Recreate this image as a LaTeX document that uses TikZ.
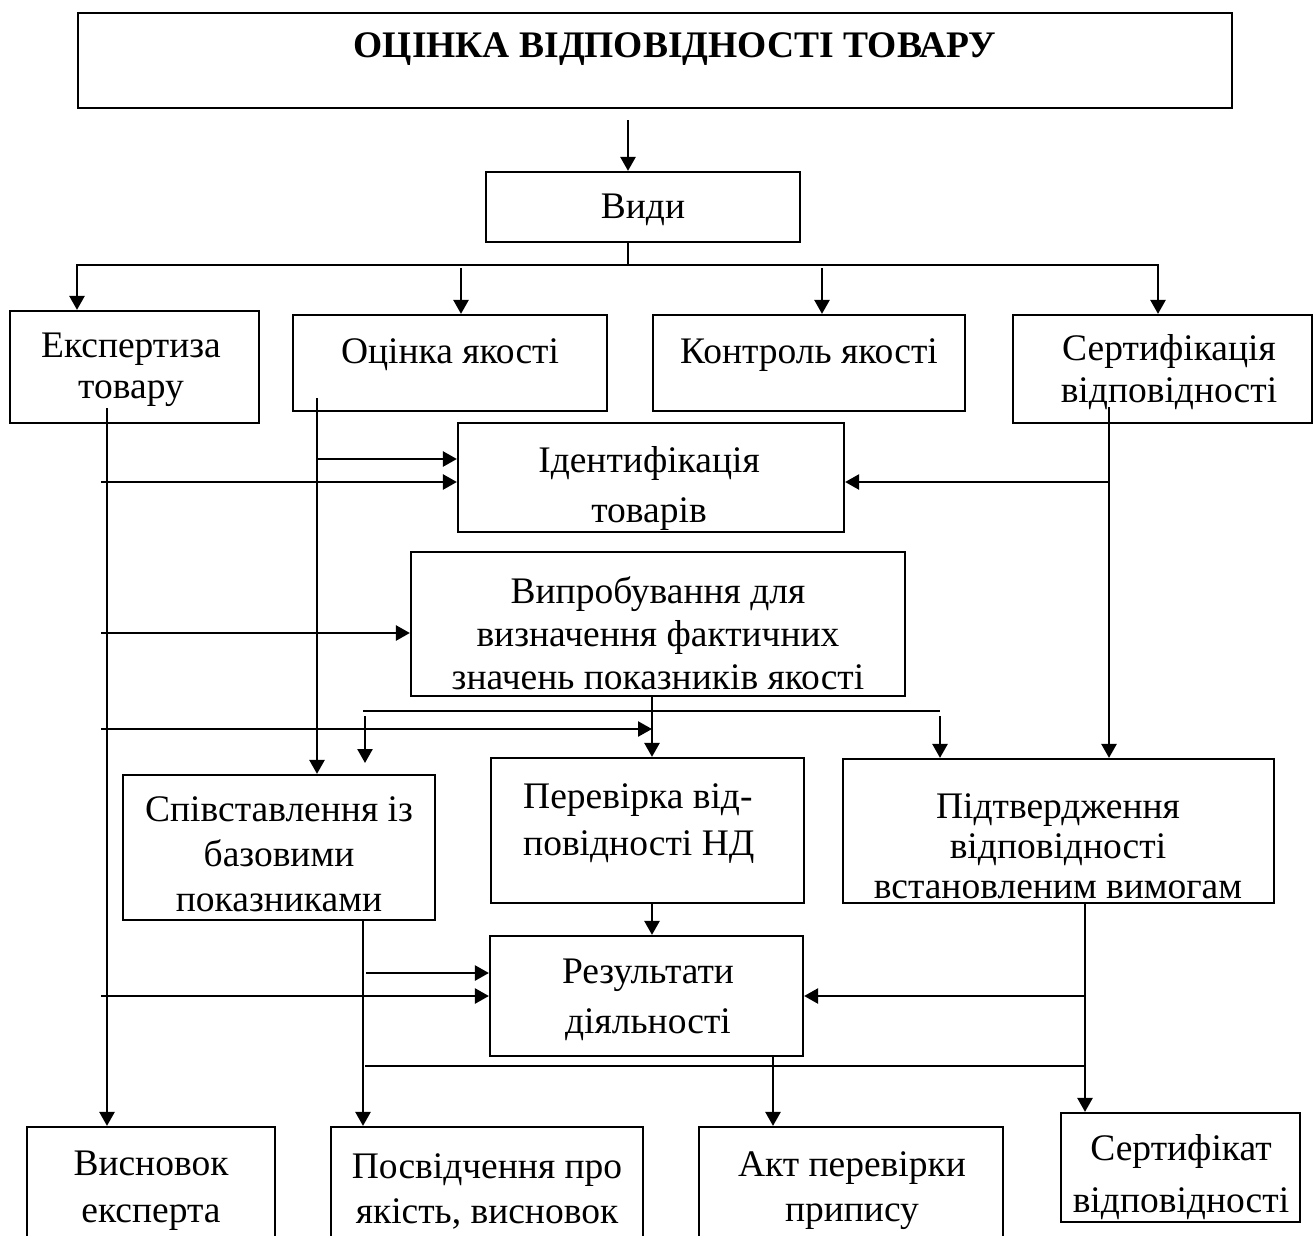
\documentclass[tikz,border=0pt]{standalone}
\usepackage{fontspec}
\setmainfont{Liberation Serif}
\usetikzlibrary{arrows.meta}
\begin{document}
\begin{tikzpicture}[x=1pt,y=-1pt,
  box/.style={draw,line width=2.2pt,inner sep=0pt},
  txt/.style={align=center,font=\fontsize{37.5}{44}\selectfont,inner sep=0pt},
  con/.style={line width=2.5pt},
  thinline/.style={line width=1.8pt},
  arr/.style={line width=2.5pt,-{Triangle[length=14pt,width=15pt]}},
  dbl/.style={line width=2.5pt,line join=miter,{Triangle[length=14pt,width=15pt]}-{Triangle[length=14pt,width=15pt]}},
]
\useasboundingbox (0,0) rectangle (1314,1235);
\clip (0,0) rectangle (1314,1235);
\fill[white] (0,0) rectangle (1314,1235);

% boxes
\node[box,minimum width=1154pt,minimum height=95pt] (title) at (655,60.5) {};
\node[box,minimum width=314pt,minimum height=70pt] (vydy) at (643,207) {};
\node[box,minimum width=249pt,minimum height=112pt] (eksp) at (134.5,367) {};
\node[box,minimum width=314pt,minimum height=96pt] (ocin) at (450,363) {};
\node[box,minimum width=312pt,minimum height=96pt] (kontr) at (809,363) {};
\node[box,minimum width=299pt,minimum height=108pt] (sert) at (1162.5,369) {};
\node[box,minimum width=386pt,minimum height=109pt] (ident) at (651,477.5) {};
\node[box,minimum width=494pt,minimum height=144pt] (vypr) at (658,624) {};
\node[box,minimum width=312pt,minimum height=145pt] (spiv) at (279,847.5) {};
\node[box,minimum width=313pt,minimum height=145pt] (perev) at (647.5,830.5) {};
\node[box,minimum width=431pt,minimum height=144pt] (pidtv) at (1058.5,831) {};
\node[box,minimum width=313pt,minimum height=120pt] (rez) at (646.5,996) {};
\node[box,minimum width=248pt,minimum height=173pt] (vysn) at (151,1213.5) {};
\node[box,minimum width=312pt,minimum height=173pt] (posv) at (487,1213.5) {};
\node[box,minimum width=304pt,minimum height=173pt] (akt) at (851,1213.5) {};
\node[box,minimum width=239pt,minimum height=109pt] (sertf) at (1180.5,1167.5) {};

% texts
\node[txt,font=\fontsize{37.5}{44}\selectfont\bfseries] (title-t) at (675,49) {ОЦІНКА ВІДПОВІДНОСТІ ТОВАРУ};
\node[txt] (vydy-t) at (643,210) {Види};
\node[txt,font=\fontsize{37.5}{41}\selectfont] (eksp-t) at (131,370) {Експертиза\\товару};
\node[txt] (ocin-t) at (450,355) {Оцінка якості};
\node[txt] (kontr-t) at (809,355) {Контроль якості};
\node[txt,font=\fontsize{37.5}{42}\selectfont] (sert-t) at (1169,372) {Сертифікація\\відповідності};
\node[txt,font=\fontsize{37.5}{50}\selectfont] (ident-t) at (649,488) {Ідентифікація\\товарів};
\node[txt,font=\fontsize{37.5}{43}\selectfont] (vypr-t) at (658,633) {Випробування для\\визначення фактичних\\значень показників якості};
\node[txt,font=\fontsize{37.5}{45}\selectfont] (spiv-t) at (279,854) {Співставлення із\\базовими\\показниками};
\node[txt,font=\fontsize{37.5}{47}\selectfont,align=left,anchor=west] (perev-t) at (523,824) {Перевірка від-\\повідності НД};
\node[txt,font=\fontsize{37.5}{40}\selectfont] (pidtv-t) at (1058,846) {Підтвердження\\відповідності\\встановленим вимогам};
\node[txt,font=\fontsize{37.5}{50}\selectfont] (rez-t) at (648,1000) {Результати\\діяльності};
\node[txt,font=\fontsize{37.5}{47}\selectfont] (vysn-t) at (151,1191) {Висновок\\експерта};
\node[txt,font=\fontsize{37.5}{45}\selectfont] (posv-t) at (487,1191) {Посвідчення про\\якість, висновок};
\node[txt,font=\fontsize{37.5}{45}\selectfont] (akt-t) at (852,1191) {Акт перевірки\\припису};
\node[txt,font=\fontsize{37.5}{52}\selectfont] (sertf-t) at (1181,1177) {Сертифікат\\відповідності};

% connectors
\coordinate (t1) at (628,120);
\draw[arr] (t1) -- (t1 |- vydy.north);
\coordinate (b0) at (628,265);
\draw[con] (vydy.south -| b0) -- (b0);
\coordinate (bL) at (77,265);
\coordinate (bR) at (1158,265);
\draw[dbl] (bL |- eksp.north) -- (bL) -- (bR) -- (bR |- sert.north);
\coordinate (b2) at (461,268);
\draw[arr] (b2) -- (b2 |- ocin.north);
\coordinate (b3) at (822,268);
\draw[arr] (b3) -- (b3 |- kontr.north);

\coordinate (e1) at (107,408);
\draw[arr] (e1) -- (e1 |- vysn.north);
\coordinate (o1) at (317,398);
\draw[arr] (o1) -- (o1 |- spiv.north);
\coordinate (s1) at (1109,407);
\draw[arr] (s1) -- (s1 |- pidtv.north);

\coordinate (o2) at (317,459);
\draw[arr] (o2) -- (o2 -| ident.west);
\coordinate (l1) at (101,482);
\draw[arr] (l1) -- (l1 -| ident.west);
\coordinate (s2) at (1109,482);
\draw[arr] (s2) -- (s2 -| ident.east);
\coordinate (l2) at (101,633);
\draw[arr] (l2) -- (l2 -| vypr.west);

\coordinate (v1) at (652,696);
\draw[arr] (v1 |- vypr.south) -- (v1 |- perev.north);
\coordinate (h1) at (363,711);
\coordinate (h2) at (940,711);
\draw[thinline] (h1) -- (h2);
\coordinate (h1b) at (365,716);
\coordinate (h1c) at (365,763);
\draw[arr] (h1b) -- (h1c);
\coordinate (h2b) at (940,716);
\draw[arr] (h2b) -- (h2b |- pidtv.north);
\coordinate (l3) at (101,729);
\draw[arr] (l3) -- (l3 -| v1);

\coordinate (c1) at (363,920);
\draw[arr] (c1 |- spiv.south) -- (c1 |- posv.north);
\coordinate (c2) at (366,973);
\draw[arr] (c2) -- (c2 -| rez.west);
\coordinate (l4) at (101,996);
\draw[arr] (l4) -- (l4 -| rez.west);
\draw[arr] (v1 |- perev.south) -- (v1 |- rez.north);
\coordinate (p1) at (1085,903);
\draw[arr] (p1 |- pidtv.south) -- (p1 |- sertf.north);
\coordinate (p2) at (1085,996);
\draw[arr] (p2) -- (p2 -| rez.east);
\coordinate (h3) at (365,1066);
\draw[thinline] (h3) -- (h3 -| p1);
\coordinate (r1) at (773,1056);
\draw[arr] (r1 |- rez.south) -- (r1 |- akt.north);
\end{tikzpicture}
\end{document}
